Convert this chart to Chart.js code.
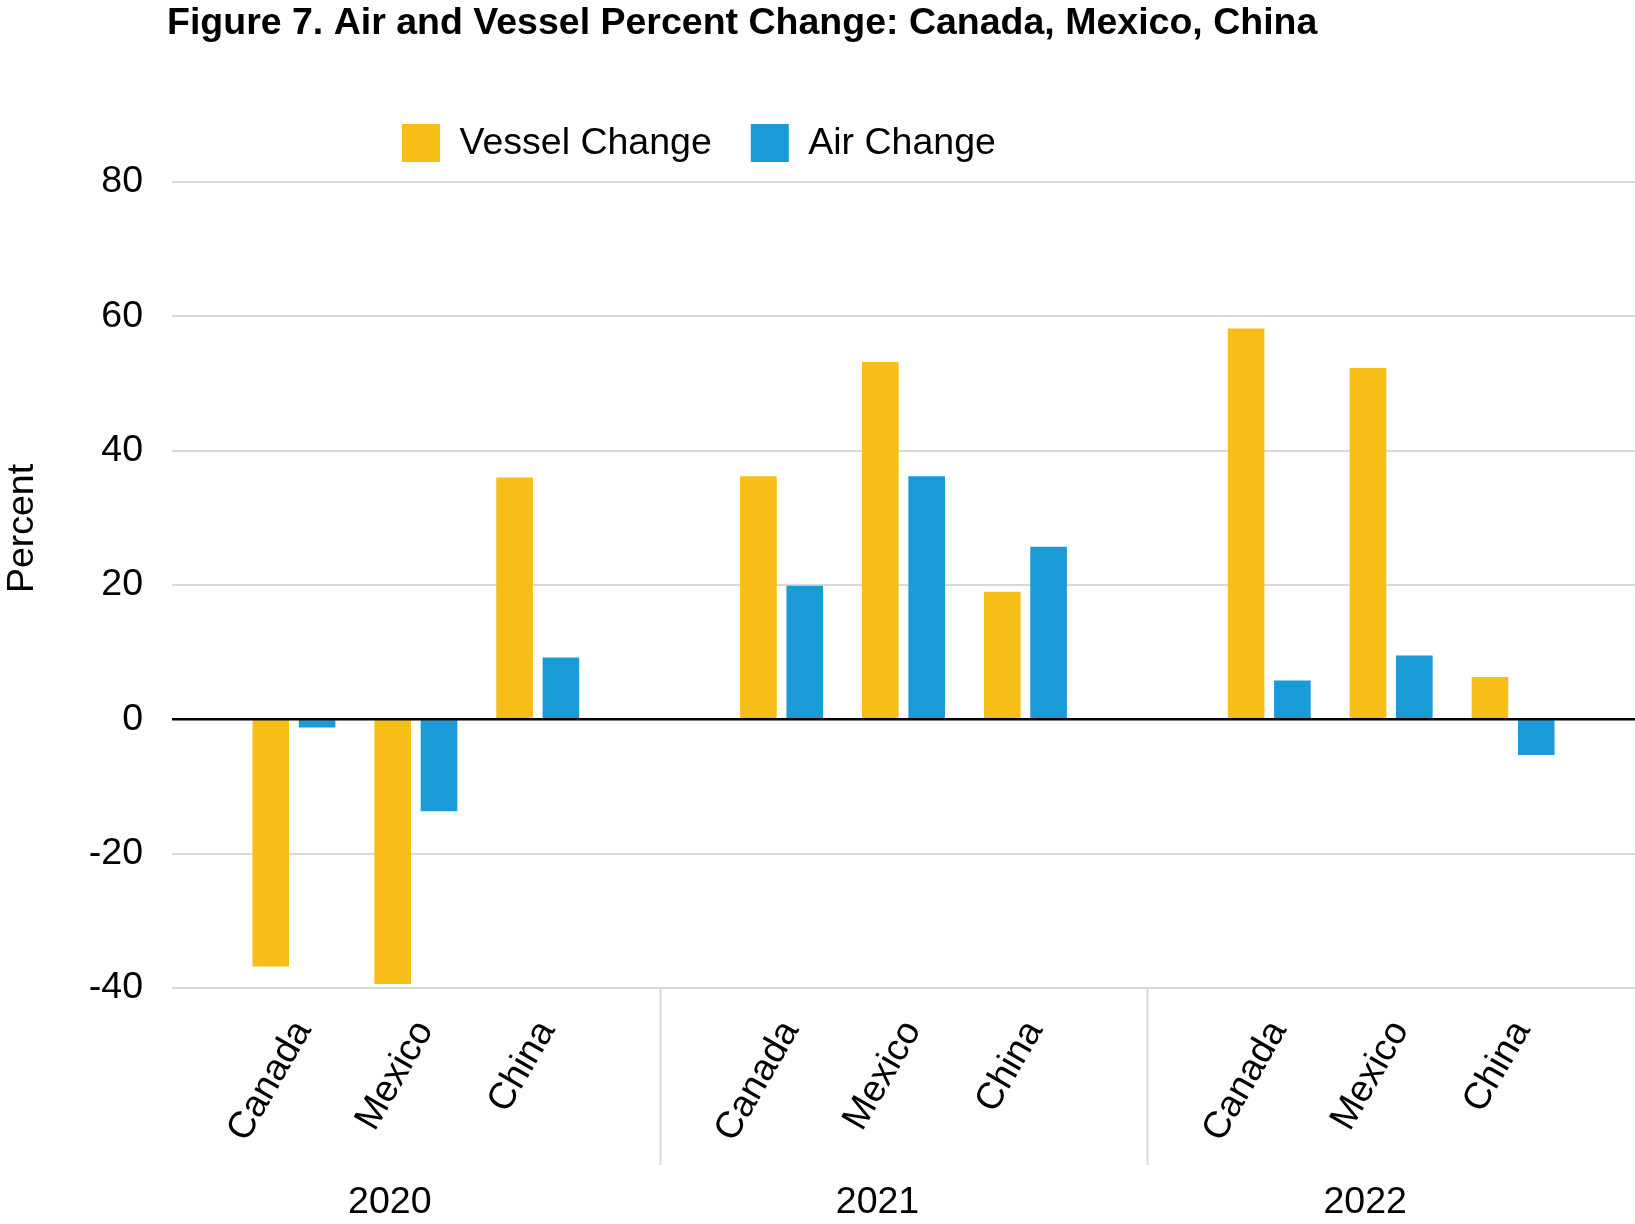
<!DOCTYPE html>
<html>
<head>
<meta charset="utf-8">
<script src="https://cdn.jsdelivr.net/npm/chart.js@4/dist/chart.umd.min.js"></script>
<style>
  html, body { margin: 0; padding: 0; background: #fff; }
  #wrap { width: 1635px; height: 1224px; }
</style>
</head>
<body>
<div id="wrap"><canvas id="chart" width="1635" height="1224"></canvas></div>
<script>
const title = 'Figure 7. Air and Vessel Percent Change: Canada, Mexico, China';
const years = ['2020', '2021', '2022'];
const countries = ['Canada', 'Mexico', 'China'];
// one value per year/country, in order 2020 Canada..China, 2021 ..., 2022 ...
const vesselChange = [-36.8, -39.4, 36.0, 36.2, 53.2, 19.0, 58.2, 52.3, 6.3];
const airChange = [-1.2, -13.7, 9.2, 19.9, 36.2, 25.7, 5.8, 9.5, -5.3];
const yTicks = [-40, -20, 0, 20, 40, 60, 80];

const FONT = "'Liberation Sans', Arial, sans-serif";
const SIZE = 37.5;

// empty slot before, between and after each year group
function padded(values) {
    const out = [null];
    years.forEach((yr, g) => {
        countries.forEach((c, i) => out.push(values[g * countries.length + i]));
        out.push(null);
    });
    return out;
}
const labels = [''];
years.forEach(() => { countries.forEach(c => labels.push(c)); labels.push(''); });

const extras = {
    id: 'extras',
    afterDatasetsDraw(chart) {
        const { ctx, chartArea: area, scales: { x, y } } = chart;
        ctx.save();

        // zero line over the bars
        const y0 = y.getPixelForValue(0);
        ctx.strokeStyle = '#000';
        ctx.lineWidth = 2.5;
        ctx.beginPath();
        ctx.moveTo(area.left, y0);
        ctx.lineTo(area.right, y0);
        ctx.stroke();

        // year separators and year labels
        ctx.strokeStyle = '#d9d9d9';
        ctx.lineWidth = 2;
        const step = countries.length + 1;
        for (let g = 1; g < years.length; g++) {
            const sx = Math.round(x.getPixelForValue(g * step)) + 0.5;
            ctx.beginPath();
            ctx.moveTo(sx, area.bottom);
            ctx.lineTo(sx, area.bottom + 177);
            ctx.stroke();
        }
        ctx.fillStyle = '#000';
        ctx.font = `${SIZE}px ${FONT}`;
        ctx.textAlign = 'center';
        ctx.textBaseline = 'alphabetic';
        years.forEach((yr, g) => {
            const cx = x.getPixelForValue(g * step + 2) - 26;
            ctx.fillText(yr, cx, area.bottom + 225);
        });

        // title
        ctx.font = `bold ${SIZE}px ${FONT}`;
        ctx.textAlign = 'left';
        ctx.fillText(title, 167, 33.5);

        // legend
        ctx.font = `${SIZE}px ${FONT}`;
        let lx = 402;
        chart.data.datasets.forEach(ds => {
            ctx.fillStyle = ds.backgroundColor;
            ctx.fillRect(lx, 124, 38, 38);
            ctx.fillStyle = '#000';
            ctx.fillText(ds.label, lx + 57.5, 153.5);
            lx += 57.5 + ctx.measureText(ds.label).width + 39;
        });

        // y axis title
        ctx.translate(33, 528.5);
        ctx.rotate(-Math.PI / 2);
        ctx.textAlign = 'center';
        ctx.fillText('Percent', 0, 0);
        ctx.restore();
    }
};

Chart.defaults.font.family = FONT;
Chart.defaults.font.size = SIZE;
Chart.defaults.color = '#000';

new Chart(document.getElementById('chart'), {
    type: 'bar',
    data: {
        labels: labels,
        datasets: [
            { label: 'Vessel Change', data: padded(vesselChange), backgroundColor: '#F7BE17' },
            { label: 'Air Change', data: padded(airChange), backgroundColor: '#1A9AD6' }
        ]
    },
    options: {
        responsive: false,
        animation: false,
        devicePixelRatio: 1,
        categoryPercentage: 0.76,
        barPercentage: 0.79,
        layout: { padding: { top: 182, left: 0, right: 0, bottom: 0 } },
        plugins: {
            legend: { display: false },
            title: { display: false },
            tooltip: { enabled: false }
        },
        scales: {
            x: {
                offset: false,
                grid: { display: false, drawTicks: false },
                border: { display: false },
                ticks: {
                    autoSkip: false,
                    minRotation: 60,
                    maxRotation: 60,
                    padding: 25,
                    labelOffset: 9
                },
                afterFit: s => {
                    s.height = 236;
                    s.paddingLeft = 0;
                    s.paddingRight = 0;
                }
            },
            y: {
                min: yTicks[0],
                max: yTicks[yTicks.length - 1],
                afterBuildTicks: s => { s.ticks = yTicks.map(v => ({ value: v })); },
                grid: {
                    drawTicks: false,
                    color: c => c.tick && c.tick.value === 0 ? 'rgba(0,0,0,0)' : '#d9d9d9',
                    lineWidth: 2
                },
                border: { display: false },
                ticks: { padding: 29 },
                afterFit: s => { s.width = 172; }
            }
        }
    },
    plugins: [extras]
});
</script>
</body>
</html>
